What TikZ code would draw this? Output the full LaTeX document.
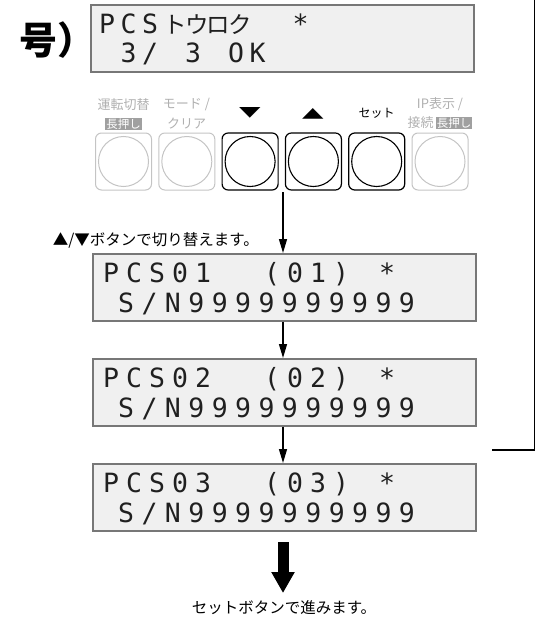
\documentclass[tikz,border=0pt]{standalone}
\usepackage{fontspec}
\setmainfont{Noto Sans CJK JP}
\newfontfamily\jpf{Noto Sans CJK JP}
\newfontfamily\monof{DejaVu Sans Mono}
\newfontfamily\symf{DejaVu Sans}
\usetikzlibrary{arrows.meta}
\definecolor{lcdfill}{HTML}{F0F0F0}
\definecolor{lcdedge}{HTML}{777777}
\definecolor{lcdink}{HTML}{202020}
\definecolor{offgray}{HTML}{C4C4C4}
\definecolor{offtext}{HTML}{B0B0B0}
\definecolor{taggray}{HTML}{A0A0A0}
\newlength\lcdpitch
\def\lcdloop#1{\ifx\relax#1\else\makebox[\lcdpitch][l]{#1}\expandafter\lcdloop\fi}
\newcommand\lcdrun[2]{\setlength\lcdpitch{#1}\lcdloop#2\relax}
\newcommand\kana[1]{{\jpf\fontsize{23.5}{23.5}\selectfont #1}}
\newcommand\tagbox[1]{{\setlength\fboxsep{1pt}\colorbox{taggray}{\textcolor{white}{\fontsize{11.5}{11.5}\selectfont #1}}}}
\begin{document}
\begin{tikzpicture}[x=1pt,y=-1pt,
  lcd/.style={draw=lcdedge, fill=lcdfill, line width=1.6pt, minimum width=383pt, minimum height=67pt, inner sep=0pt, anchor=north west},
  lcdtxt/.style={font=\monof\fontsize{26.5}{26.5}\selectfont, text=lcdink, anchor=base west, inner sep=0pt},
  onbtn/.style={draw=black, line width=1.2pt, rounded corners=6pt, minimum width=56pt, minimum height=57pt, inner sep=0pt},
  offbtn/.style={onbtn, draw=offgray, line width=1pt},
  oncirc/.style={draw=black, line width=1.1pt, circle, minimum size=50pt, inner sep=0pt},
  offcirc/.style={oncirc, draw=offgray, line width=1pt},
  offlbl/.style={font=\fontsize{13}{13}\selectfont, text=offtext, inner sep=0pt},
  arr/.style={line width=1.3pt, -{Triangle[length=14pt 0 0, width=8pt 0 0]}},
  note/.style={font=\fontsize{15.5}{15.5}\selectfont, inner sep=0pt}
]
\useasboundingbox (0,0) rectangle (536,623);

% partial title
\node[anchor=west, font=\bfseries\fontsize{38}{38}\selectfont, inner sep=0pt] (ttl) at (19,40) {号）};

% top LCD
\node[lcd] (lcd0) at (90,4) {};
\node[lcdtxt] (l0a) at (99,34) {\lcdrun{21.5pt}{PCS{\kana{ト}}{\kana{ウ}}{\kana{ロ}}{\kana{ク}}~~*}};
\node[lcdtxt] (l0b) at (99,63) {\lcdrun{21.5pt}{~3/~3~OK}};

% button labels
\node[offlbl] (t1a) at (123.5,105) {運転切替};
\node[inner sep=0pt] (t1b) at (123.5,124) {\tagbox{長押し}};
\node[offlbl] (t2a) at (186.5,105) {モード /};
\node[offlbl] (t2b) at (186.5,124) {クリア};
\node[inner sep=0pt, font=\symf\fontsize{14}{14}\selectfont] (t3) at (250,113) {\scalebox{2}[1]{▼}};
\node[inner sep=0pt, font=\symf\fontsize{14}{14}\selectfont] (t4) at (313,114) {\scalebox{2}[1]{▲}};
\node[inner sep=0pt, font=\fontsize{12}{12}\selectfont] (t5) at (376.5,113) {セット};
\node[offlbl] (t6a) at (440,104) {IP表示 /};
\node[offlbl] (t6b) at (440,123) {接続\,\tagbox{長押し}};

% buttons
\node[offbtn] (b1) at (123.5,161.5) {}; \node[offcirc] (c1) at (b1) {};
\node[offbtn] (b2) at (186.8,161.5) {}; \node[offcirc] (c2) at (b2) {};
\node[onbtn]  (b3) at (250.1,161.5) {}; \node[oncirc]  (c3) at (b3) {};
\node[onbtn]  (b4) at (313.4,161.5) {}; \node[oncirc]  (c4) at (b4) {};
\node[onbtn]  (b5) at (376.7,161.5) {}; \node[oncirc]  (c5) at (b5) {};
\node[offbtn] (b6) at (440,161.5) {};   \node[offcirc] (c6) at (b6) {};

% LCD list
\node[lcd] (lcd1) at (92,253) {};
\node[lcdtxt] (l1a) at (103,282) {\lcdrun{23pt}{PCS01~~(01)~*}};
\node[lcdtxt] (l1b) at (118,312) {\lcdrun{23.4pt}{S/N9999999999}};
\node[lcd] (lcd2) at (92,358) {};
\node[lcdtxt] (l2a) at (103,387) {\lcdrun{23pt}{PCS02~~(02)~*}};
\node[lcdtxt] (l2b) at (118,417) {\lcdrun{23.4pt}{S/N9999999999}};
\node[lcd] (lcd3) at (92,463) {};
\node[lcdtxt] (l3a) at (103,492) {\lcdrun{23pt}{PCS03~~(03)~*}};
\node[lcdtxt] (l3b) at (118,522) {\lcdrun{23.4pt}{S/N9999999999}};

% arrows
\coordinate (a0) at (283,192);
\draw[arr] (a0) -- (a0 |- lcd1.north);
\node[note, anchor=base east] (n1) at (259,245) {▲/▼ボタンで切り替えます。};
\draw[arr] (lcd1.south -| a0) -- (lcd2.north -| a0);
\draw[arr] (lcd2.south -| a0) -- (lcd3.north -| a0);
\coordinate (big1) at (283,542);
\coordinate (big2) at (283,593);
\draw[line width=11pt, -{Triangle[length=21pt 0 0, width=22pt 0 0]}] (big1) -- (big2);
\node[note] (n2) at (284,608) {セットボタンで進みます。};

% return line
\coordinate (r0) at (492,450);
\coordinate (r1) at (534.5,0);
\draw[line width=1.8pt] (r0) -| (r1);
\end{tikzpicture}
\end{document}
